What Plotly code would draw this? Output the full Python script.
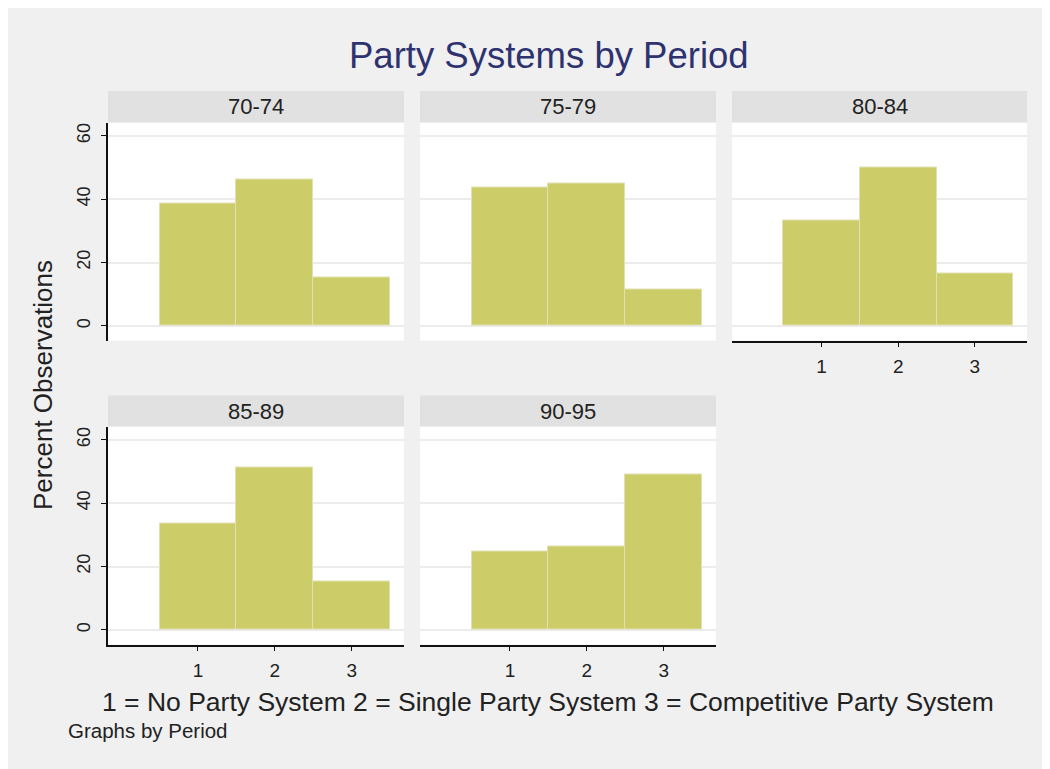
import plotly.graph_objects as go

# ---------------- data ----------------
periods = ["70-74", "75-79", "80-84", "85-89", "90-95"]
categories = [1, 2, 3]
pct_70_74 = [38.5, 46.2, 15.4]
pct_75_79 = [43.6, 44.9, 11.5]
pct_80_84 = [33.3, 50.0, 16.7]
pct_85_89 = [33.6, 51.2, 15.2]
pct_90_95 = [24.6, 26.2, 49.2]
y_ticks = [0, 20, 40, 60]
x_ticks = [1, 2, 3]
title_text = "Party Systems by Period"
x_title = "1 = No Party System 2 = Single Party System 3 = Competitive Party System"
y_title = "Percent Observations"
note_text = "Graphs by Period"

series = [pct_70_74, pct_75_79, pct_80_84, pct_85_89, pct_90_95]

# ---------------- layout helpers ----------------
OFF = 8  # page body margin
W, H = 1050 - OFF, 769 - OFF
FONT = "Liberation Sans, Arial, sans-serif"


def px(x):
    return (x - OFF) / W


def py(y):
    return 1 - (y - OFF) / H


cols = [(108, 404), (420, 716), (732, 1027)]
rows = [((91, 122.5), (122.5, 340.5)), ((395.5, 426.5), (426.5, 644.5))]
positions = [(0, 0), (0, 1), (0, 2), (1, 0), (1, 1)]
show_x = [False, False, True, True, True]
show_y = [True, False, False, True, False]

BAR_COLOR = "#cccc68"
BAR_LINE = "#e0e0b2"
STRIP = "#e1e1e1"
BG = "#f0f0f0"

fig = go.Figure()
layout = dict(
    width=W, height=H,
    margin=dict(l=0, r=0, t=0, b=0),
    paper_bgcolor=BG, plot_bgcolor="white",
    showlegend=False,
    font=dict(family=FONT, color="#222222"),
    bargap=0,
)
shapes = []
annotations = []

for i, (period, vals) in enumerate(zip(periods, series)):
    r, c = positions[i]
    (s0, s1), (p0, p1) = rows[r]
    c0, c1 = cols[c]
    n = "" if i == 0 else str(i + 1)
    xa, ya = "x" + n, "y" + n
    fig.add_trace(go.Bar(
        x=categories, y=vals, width=1, xaxis=xa, yaxis=ya,
        marker=dict(color=BAR_COLOR, line=dict(color=BAR_LINE, width=1)),
        hoverinfo="skip",
    ))
    layout["xaxis" + n] = dict(
        domain=[px(c0), px(c1)], range=[-0.17, 3.68], anchor=ya,
        showgrid=False, zeroline=False,
        showline=show_x[i], linecolor="#111111", linewidth=1.5,
        ticks="outside" if show_x[i] else "", ticklen=5, tickwidth=1.2, tickcolor="#111111",
        tickvals=x_ticks, showticklabels=show_x[i], ticklabelstandoff=3,
        tickfont=dict(size=19, color="#222222", family=FONT),
        fixedrange=True,
    )
    layout["yaxis" + n] = dict(
        domain=[py(p1), py(p0)], range=[-4.6, 64.2], anchor=xa,
        showgrid=True, gridcolor="#ececec", gridwidth=1.5, zeroline=False,
        showline=show_y[i], linecolor="#111111", linewidth=1.5,
        ticks="outside" if show_y[i] else "", ticklen=5, tickwidth=1.2, tickcolor="#111111",
        tickvals=y_ticks, showticklabels=show_y[i], tickangle=-90, ticklabelstandoff=4,
        tickfont=dict(size=18, color="#222222", family=FONT),
        fixedrange=True,
    )
    # strip header
    shapes.append(dict(type="rect", xref="paper", yref="paper",
                       x0=px(c0), x1=px(c1), y0=py(s1), y1=py(s0),
                       fillcolor=STRIP, line_width=0, layer="below"))
    annotations.append(dict(text=period, xref="paper", yref="paper",
                            x=px((c0 + c1) / 2), y=py((s0 + s1) / 2),
                            xanchor="center", yanchor="middle", showarrow=False,
                            font=dict(size=22, color="#222222", family=FONT)))

# titles
annotations.append(dict(text=title_text, xref="paper", yref="paper",
                        x=px(549), y=py(56), xanchor="center", yanchor="middle",
                        showarrow=False, font=dict(size=36.5, color="#2e3370", family=FONT)))
annotations.append(dict(text=x_title, xref="paper", yref="paper",
                        x=px(548), y=py(702), xanchor="center", yanchor="middle",
                        showarrow=False, font=dict(size=26.5, color="#222222", family=FONT)))
annotations.append(dict(text=y_title, xref="paper", yref="paper",
                        x=px(43), y=py(385), xanchor="center", yanchor="middle",
                        textangle=-90, showarrow=False,
                        font=dict(size=26, color="#222222", family=FONT)))
annotations.append(dict(text=note_text, xref="paper", yref="paper",
                        x=px(66), y=py(730), xanchor="left", yanchor="middle",
                        showarrow=False, font=dict(size=20.5, color="#222222", family=FONT)))

layout["shapes"] = shapes
layout["annotations"] = annotations
fig.update_layout(**layout)
fig.write_html("out.html")
